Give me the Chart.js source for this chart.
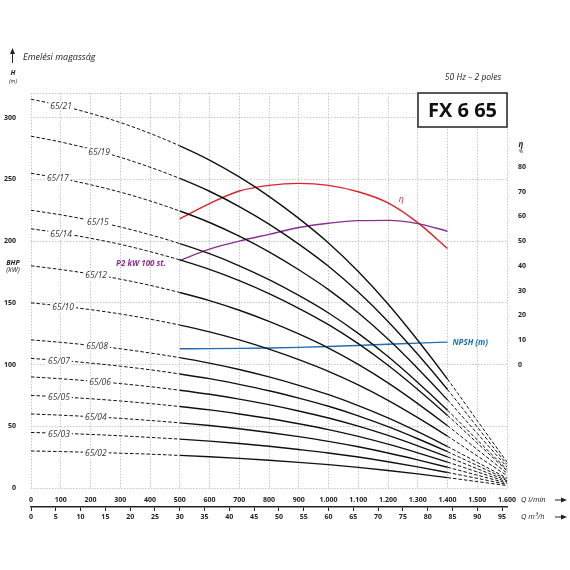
<!DOCTYPE html>
<html>
<head>
<meta charset="utf-8">
<title>FX 6 65</title>
<script src="https://cdn.jsdelivr.net/npm/chart.js@4.4.1/dist/chart.umd.min.js"></script>
<style>
  html, body { margin: 0; padding: 0; background: #fff; }
  #wrap { width: 570px; height: 570px; }
</style>
</head>
<body>
<div id="wrap"><canvas id="pumpChart" width="570" height="570"></canvas></div>
<script>
// flow points (l/min) used by every head curve
const flowLmin = [0, 100, 200, 300, 400, 500, 600, 700, 800, 900, 1000, 1100, 1200, 1300, 1400, 1500, 1600];

// lower axis ticks (m3/h)
const m3hTicks = [0, 5, 10, 15, 20, 25, 30, 35, 40, 45, 50, 55, 60, 65, 70, 75, 80, 85, 90, 95];

const stageNames = ['65/02', '65/03', '65/04', '65/05', '65/06', '65/07', '65/08',
                    '65/10', '65/12', '65/14', '65/15', '65/17', '65/19', '65/21'];

// head H (m) for each model
const head02 = [30, 29.5, 28.9, 28.2, 27.4, 26.4, 25.3, 24, 22.5, 20.8, 18.9, 16.7, 14.2, 11.4, 8.4, 5.2, 2];
const head03 = [45, 44.3, 43.4, 42.3, 41, 39.6, 38, 36, 33.8, 31.2, 28.4, 25.1, 21.3, 17.1, 12.6, 7.8, 3];
const head04 = [60, 59, 57.8, 56.4, 54.7, 52.8, 50.6, 48, 45, 41.6, 37.8, 33.4, 28.4, 22.8, 16.8, 10.4, 4];
const head05 = [75, 73.8, 72.3, 70.5, 68.4, 66, 63.3, 60, 56.3, 52, 47.3, 41.8, 35.5, 28.5, 21, 13, 5];
const head06 = [90, 88.5, 86.7, 84.6, 82.1, 79.2, 75.9, 72, 67.5, 62.4, 56.7, 50.1, 42.6, 34.2, 25.2, 15.6, 6];
const head07 = [105, 103.3, 101.2, 98.7, 95.8, 92.4, 88.6, 84, 78.8, 72.8, 66.2, 58.5, 49.7, 39.9, 29.4, 18.2, 7];
const head08 = [120, 118, 115.6, 112.8, 109.4, 105.6, 101.2, 96, 90, 83.2, 75.6, 66.8, 56.8, 45.6, 33.6, 20.8, 8];
const head10 = [150, 147.5, 144.5, 141, 136.8, 132, 126.5, 120, 112.5, 104, 94.5, 83.5, 71, 57, 42, 26, 10];
const head12 = [180, 177, 173.4, 169.2, 164.2, 158.4, 151.8, 144, 135, 124.8, 113.4, 100.2, 85.2, 68.4, 50.4, 31.2, 12];
const head14 = [210, 206.5, 202.3, 197.4, 191.5, 184.8, 177.1, 168, 157.5, 145.6, 132.3, 116.9, 99.4, 79.8, 58.8, 36.4, 14];
const head15 = [225, 221.3, 216.8, 211.5, 205.2, 198, 189.8, 180, 168.8, 156, 141.8, 125.3, 106.5, 85.5, 63, 39, 15];
const head17 = [255, 250.8, 245.7, 239.7, 232.6, 224.4, 215.1, 204, 191.3, 176.8, 160.7, 142, 120.7, 96.9, 71.4, 44.2, 17];
const head19 = [285, 280.3, 274.6, 267.9, 259.9, 250.8, 240.4, 228, 213.8, 197.6, 179.6, 158.7, 134.9, 108.3, 79.8, 49.4, 19];
const head21 = [315, 309.8, 303.5, 296.1, 287.3, 277.2, 265.7, 252, 236.3, 218.4, 198.5, 175.4, 149.1, 119.7, 88.2, 54.6, 21];

const headCurves = [head02, head03, head04, head05, head06, head07, head08,
                    head10, head12, head14, head15, head17, head19, head21];

// working range curves
const dutyFlow = [500, 600, 700, 800, 900, 1000, 1100, 1200, 1300, 1400];
const efficiency = [59, 65.2, 70.3, 72.6, 73.4, 72.6, 70, 65.5, 57.5, 47];        // %
const powerP2 = [184.3, 193.5, 200, 205.5, 211, 214.5, 216.6, 216.8, 214.2, 208];  // kW, 100 stages
const npsh = [6.4, 6.45, 6.55, 6.7, 6.95, 7.3, 7.75, 8.2, 8.7, 9.1];               // m

const FONT = "'Open Sans', 'Liberation Sans', sans-serif";
const DASH_START = 500, DASH_END = 1400;

// where the model names sit on the dashed part (l/min)
const labelFlow = [218, 94, 218, 94, 232, 94, 222, 108, 219, 101, 225, 90, 229, 101];

function headAt(arr, q) {
    for (let i = 0; i < flowLmin.length - 1; i++) {
        if (q >= flowLmin[i] && q <= flowLmin[i + 1]) {
            const t = (q - flowLmin[i]) / (flowLmin[i + 1] - flowLmin[i]);
            return arr[i] + t * (arr[i + 1] - arr[i]);
        }
    }
    return arr[arr.length - 1];
}

function thousands(v) {
    if (v < 1000) return String(v);
    return Math.floor(v / 1000) + '.' + String(v % 1000).padStart(3, '0');
}

const isDashed = ctx => ctx.p1.parsed.x <= DASH_START || ctx.p0.parsed.x >= DASH_END;

const headSets = headCurves.map((h, i) => ({
    label: stageNames[i],
    data: flowLmin.map((q, j) => ({ x: q, y: h[j] })),
    borderColor: '#111',
    borderWidth: 1.4,
    pointRadius: 0,
    cubicInterpolationMode: 'monotone',
    yAxisID: 'y',
    segment: {
        borderDash: ctx => isDashed(ctx) ? [3.5, 2] : undefined,
        borderWidth: ctx => isDashed(ctx) ? 1 : undefined
    }
}));

const extraSets = [
    {
        label: 'P2 kW 100 st.',
        data: dutyFlow.map((q, j) => ({ x: q, y: powerP2[j] })),
        borderColor: '#8b2f8f', borderWidth: 1.4, pointRadius: 0,
        cubicInterpolationMode: 'monotone', yAxisID: 'y'
    },
    {
        label: 'η',
        data: dutyFlow.map((q, j) => ({ x: q, y: efficiency[j] })),
        borderColor: '#e0202b', borderWidth: 1.4, pointRadius: 0,
        cubicInterpolationMode: 'monotone', yAxisID: 'y2'
    },
    {
        label: 'NPSH (m)',
        data: dutyFlow.map((q, j) => ({ x: q, y: npsh[j] })),
        borderColor: '#1f6db3', borderWidth: 1.4, pointRadius: 0,
        cubicInterpolationMode: 'monotone', yAxisID: 'y2'
    }
];

function arrowRight(ctx, x1, x2, y) {
    ctx.beginPath();
    ctx.moveTo(x1, y);
    ctx.lineTo(x2 - 4, y);
    ctx.stroke();
    ctx.beginPath();
    ctx.moveTo(x2, y);
    ctx.lineTo(x2 - 6, y - 2.5);
    ctx.lineTo(x2 - 6, y + 2.5);
    ctx.closePath();
    ctx.fill();
}

const textPlugin = {
    id: 'pumpText',
    afterDatasetsDraw(chart) {
        const ctx = chart.ctx;
        const xs = chart.scales.x, ys = chart.scales.y;
        ctx.save();
        ctx.font = `italic 8.5px ${FONT}`;
        ctx.textAlign = 'center';
        ctx.textBaseline = 'middle';
        stageNames.forEach((name, i) => {
            const q = labelFlow[i];
            const px = xs.getPixelForValue(q);
            const py = ys.getPixelForValue(headAt(headCurves[i], q)) + 1;
            const w = ctx.measureText(name).width + 4;
            ctx.fillStyle = '#fff';
            ctx.fillRect(px - w / 2, py - 4.5, w, 9);
            ctx.fillStyle = '#333';
            ctx.fillText(name, px, py);
        });
        ctx.restore();
    },
    afterDraw(chart) {
        const ctx = chart.ctx;
        const area = chart.chartArea;
        const xs = chart.scales.x, ys = chart.scales.y, y2 = chart.scales.y2;
        ctx.save();
        ctx.fillStyle = '#222';
        ctx.strokeStyle = '#222';
        ctx.lineWidth = 1;

        // vertical arrow + axis title
        ctx.beginPath();
        ctx.moveTo(12.5, 63);
        ctx.lineTo(12.5, 53);
        ctx.stroke();
        ctx.beginPath();
        ctx.moveTo(12.5, 48);
        ctx.lineTo(10, 54);
        ctx.lineTo(15, 54);
        ctx.closePath();
        ctx.fill();
        ctx.textBaseline = 'middle';
        ctx.textAlign = 'left';
        ctx.font = `italic 9px ${FONT}`;
        ctx.fillText('Emelési magasság', 23, 57);

        ctx.textAlign = 'center';
        ctx.font = `bold italic 7px ${FONT}`;
        ctx.fillText('H', 13, 73);
        ctx.font = `italic 5.5px ${FONT}`;
        ctx.fillText('(m)', 13, 81);
        ctx.font = `bold italic 7px ${FONT}`;
        ctx.fillText('BHP', 13, 263);
        ctx.font = `italic 7px ${FONT}`;
        ctx.fillText('(kW)', 13, 270);

        // right axis header
        ctx.font = `bold italic 8px ${FONT}`;
        ctx.fillText('η', 521, 145);
        ctx.font = `5px ${FONT}`;
        ctx.fillText('%', 521, 152);

        // subtitle and model box
        ctx.font = `italic 8.5px ${FONT}`;
        ctx.fillText('50 Hz – 2 poles', 473, 78);
        const bx = area.right - 89, by = area.top, bw = 89, bh = 34;
        ctx.fillStyle = '#fff';
        ctx.fillRect(bx, by, bw, bh);
        ctx.lineWidth = 1.5;
        ctx.strokeRect(bx, by, bw, bh);
        ctx.fillStyle = '#111';
        ctx.font = `bold 20px ${FONT}`;
        ctx.fillText('FX 6 65', bx + bw / 2, by + bh / 2 + 1);

        // curve names
        ctx.font = `bold italic 8px ${FONT}`;
        ctx.fillStyle = '#8b2f8f';
        ctx.fillText('P2 kW 100 st.', 141, ys.getPixelForValue(powerP2[0]) + 3);
        ctx.fillStyle = '#e0202b';
        ctx.font = `italic 9px ${FONT}`;
        ctx.fillText('η', xs.getPixelForValue(1245), y2.getPixelForValue(67));
        ctx.fillStyle = '#1f6db3';
        ctx.font = `bold italic 8px ${FONT}`;
        ctx.textAlign = 'left';
        ctx.fillText('NPSH (m)', xs.getPixelForValue(1400) + 5, y2.getPixelForValue(npsh[npsh.length - 1]) + 1);

        // bottom axis titles
        ctx.fillStyle = '#222';
        ctx.font = `italic 7.5px ${FONT}`;
        ctx.fillText('Q l/min', 521, 500);
        ctx.fillText('Q m³/h', 521, 517);
        ctx.lineWidth = 1;
        arrowRight(ctx, 555, 567, 500);
        arrowRight(ctx, 555, 567, 517);
        ctx.restore();
    }
};

const gridStyle = { color: '#b8b8b8', lineWidth: 0.8 };
const tickFont = { family: FONT, size: 7, weight: 'bold' };

new Chart(document.getElementById('pumpChart'), {
    type: 'line',
    data: { datasets: headSets.concat(extraSets) },
    options: {
        responsive: false,
        animation: false,
        layout: { padding: { top: 93, left: 0, right: 0, bottom: 32 } },
        plugins: {
            legend: { display: false },
            tooltip: { enabled: false }
        },
        scales: {
            x: {
                type: 'linear', position: 'bottom', min: 0, max: 1600,
                ticks: { stepSize: 100, autoSkip: false, maxRotation: 0, padding: 8,
                         color: '#222', font: tickFont, callback: v => thousands(v) },
                grid: Object.assign({ drawTicks: false }, gridStyle),
                border: { display: false, dash: [1.5, 1.5] },
                afterFit: s => { s.height = 19; }
            },
            x2: {
                type: 'linear', position: 'bottom', min: 0, max: 96,
                ticks: { autoSkip: false, maxRotation: 0, padding: 1.5,
                         color: '#222', font: tickFont },
                grid: { drawOnChartArea: false, drawTicks: true, tickLength: 4,
                        tickColor: '#222', tickWidth: 1 },
                border: { display: true, color: '#222', width: 1.5 },
                afterBuildTicks: s => { s.ticks = m3hTicks.map(v => ({ value: v })); },
                afterFit: s => { s.height = 31; }
            },
            y: {
                type: 'linear', position: 'left', min: 0, max: 320,
                ticks: { stepSize: 50, padding: 15, color: '#222', font: tickFont,
                         callback: v => (v % 50 === 0 ? v : '') },
                grid: Object.assign({ drawTicks: false }, gridStyle),
                border: { display: false, dash: [1.5, 1.5] },
                afterFit: s => { s.width = 31; }
            },
            y2: {
                type: 'linear', position: 'right', min: -50, max: 110,
                ticks: { stepSize: 10, padding: 3, color: '#222', font: tickFont },
                grid: { display: false },
                border: { display: false },
                afterBuildTicks: s => { s.ticks = s.ticks.filter(t => t.value >= 0 && t.value <= 80); },
                afterFit: s => { s.width = 63; }
            }
        }
    },
    plugins: [textPlugin]
});
</script>
</body>
</html>
